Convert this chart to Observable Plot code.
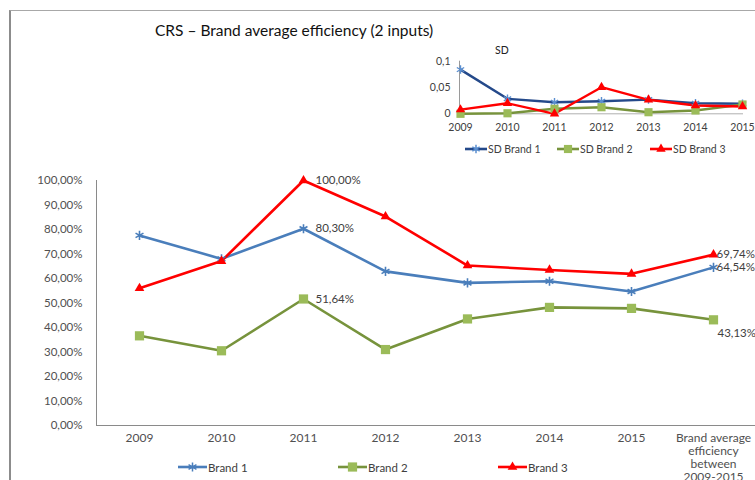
<!DOCTYPE html>
<html>
<head>
<meta charset="utf-8">
<script src="https://cdn.jsdelivr.net/npm/d3@7"></script>
<script src="https://cdn.jsdelivr.net/npm/@observablehq/plot@0.6"></script>
<style>
  body { margin: 0; background: #fff; font-family: Lato, "Open Sans", sans-serif; }
  #chart { position: relative; width: 755px; height: 480px; overflow: hidden; background: #fff; }
  .frame { position: absolute; left: 9px; top: 10px; right: -20px; bottom: -20px;
           border-left: 2px solid #8c8c8c; border-top: 1.5px solid #a8a8a8; }
  .title { position: absolute; left: 155px; top: 21px; font-size: 15.5px; color: #111; white-space: nowrap; }
  .sd { position: absolute; left: 495px; top: 44px; font-size: 10.5px; color: #222; }
  .plot { position: absolute; }
  .legend { position: absolute; display: flex; align-items: center; white-space: nowrap; color: #404040; }
  .legend svg { display: block; }
</style>
</head>
<body>
<div id="chart">
  <div class="frame"></div>
  <div class="title">CRS – Brand average efficiency (2 inputs)</div>
  <div class="sd">SD</div>
</div>
<script>
// Efficiency per brand, 2009–2015, plus the brand average over the period
const categories = ["2009", "2010", "2011", "2012", "2013", "2014", "2015", "Brand average\nefficiency\nbetween\n2009-2015"];
const brand1 = [0.776, 0.680, 0.8030, 0.629, 0.582, 0.589, 0.547, 0.6454];
const brand2 = [0.366, 0.305, 0.5164, 0.310, 0.435, 0.482, 0.478, 0.4313];
const brand3 = [0.560, 0.671, 1.0000, 0.853, 0.653, 0.635, 0.619, 0.6974];

// Standard deviation of efficiency per brand
const sdYears = ["2009", "2010", "2011", "2012", "2013", "2014", "2015"];
const sdBrand1 = [0.084, 0.0285, 0.022, 0.024, 0.027, 0.020, 0.019];
const sdBrand2 = [0.000, 0.001, 0.0095, 0.0125, 0.003, 0.0063, 0.0177];
const sdBrand3 = [0.008, 0.020, 0.000, 0.0506, 0.0266, 0.0158, 0.0139];

const yTicks = [0, 0.1, 0.2, 0.3, 0.4, 0.5, 0.6, 0.7, 0.8, 0.9, 1];
const sdTicks = [0, 0.05, 0.1];

const labelledCats = [categories[2], categories[7]];

const pct = d => (d * 100).toFixed(2).replace(".", ",") + "%";
const comma = d => String(d).replace(".", ",");

const series = [
  {name: "Brand 1", values: brand1, line: "#4a7ebb", fill: "none", stroke: "#4a7ebb", symbol: "asterisk", r: 4.3},
  {name: "Brand 2", values: brand2, line: "#77933c", fill: "#9bbb59", stroke: "none", symbol: "square", r: 5.2},
  {name: "Brand 3", values: brand3, line: "#ff0000", fill: "#ff0000", stroke: "none", symbol: "triangle", r: 3.6}
];
const sdSeries = [
  {name: "SD Brand 1", values: sdBrand1, line: "#24498a", fill: "none", stroke: "#5b8fd0", symbol: "asterisk", r: 4},
  {name: "SD Brand 2", values: sdBrand2, line: "#77933c", fill: "#9bbb59", stroke: "none", symbol: "square", r: 4.6},
  {name: "SD Brand 3", values: sdBrand3, line: "#ff0000", fill: "#ff0000", stroke: "none", symbol: "triangle", r: 3.5}
];

const rows = series.flatMap(s => s.values.map((v, i) => ({brand: s.name, cat: categories[i], v})));
const sdRows = sdSeries.flatMap(s => s.values.map((v, i) => ({brand: s.name, year: sdYears[i], v})));

const chart = document.getElementById("chart");

// Main chart
const mainMarks = [
  Plot.axisX({tickSize: 0, tickPadding: 7, lineHeight: 1.1, fontSize: 12, fill: "#505050", label: null}),
  Plot.axisY({ticks: yTicks, tickFormat: pct, tickSize: 0, tickPadding: 14, fontSize: 11.5, fill: "#505050", label: null}),
  Plot.frame({anchor: "left", stroke: "#8a8a8a"}),
  Plot.ruleY([0], {stroke: "#8a8a8a"}),
  ...series.map(s => Plot.line(rows.filter(d => d.brand === s.name), {x: "cat", y: "v", stroke: s.line, strokeWidth: 2.6})),
  ...series.map(s => Plot.dot(rows.filter(d => d.brand === s.name), {x: "cat", y: "v", symbol: () => s.symbol, r: s.r, fill: s.fill, stroke: s.stroke, strokeWidth: 1.6})),
  // value labels at 2011
  Plot.text(rows.filter(d => d.cat === labelledCats[0]), {x: "cat", y: "v", text: d => pct(d.v), textAnchor: "start", dx: 12, fill: "#404040", fontSize: 11.5}),
  // value labels for the period averages
  Plot.text(rows.filter(d => d.cat === labelledCats[1] && d.brand !== "Brand 2"), {x: "cat", y: "v", text: d => pct(d.v), textAnchor: "start", dx: 3, fill: "#404040", fontSize: 11.5}),
  Plot.text(rows.filter(d => d.cat === labelledCats[1] && d.brand === "Brand 2"), {x: "cat", y: "v", text: d => pct(d.v), textAnchor: "start", dx: 4, dy: 13, fill: "#404040", fontSize: 11.5})
];

const main = Plot.plot({
  width: 755, height: 330,
  marginLeft: 96, marginRight: 0, marginTop: 20, marginBottom: 65,
  style: {fontFamily: "Lato, sans-serif", fontSize: "11.5px", color: "#505050", background: "transparent", overflow: "visible"},
  x: {type: "point", domain: categories, padding: 0.5},
  y: {domain: [0, 1]},
  marks: mainMarks
});
main.classList.add("plot");
main.style.left = "0px";
main.style.top = "160px";
chart.appendChild(main);

// SD inset
const inset = Plot.plot({
  width: 335, height: 100,
  marginLeft: 39, marginRight: 12, marginTop: 20.7, marginBottom: 26.7,
  style: {fontFamily: "Lato, sans-serif", fontSize: "10.5px", color: "#404040", background: "transparent", overflow: "visible"},
  x: {type: "point", domain: sdYears, padding: 0, label: null, tickSize: 0, tickPadding: 10},
  y: {domain: [0, 0.1], ticks: sdTicks, tickFormat: comma, label: null, tickSize: 0, tickPadding: 9},
  marks: [
    Plot.frame({anchor: "left", stroke: "#9a9a9a"}),
    Plot.ruleY([0], {stroke: "#b0b0b0"}),
    ...sdSeries.map(s => Plot.line(sdRows.filter(d => d.brand === s.name), {x: "year", y: "v", stroke: s.line, strokeWidth: 2.4})),
    ...sdSeries.map(s => Plot.dot(sdRows.filter(d => d.brand === s.name), {x: "year", y: "v", symbol: () => s.symbol, r: s.r, fill: s.fill, stroke: s.stroke, strokeWidth: 1.4}))
  ]
});
inset.classList.add("plot");
inset.style.left = "420px";
inset.style.top = "40px";
chart.appendChild(inset);

// Legends
const symbolTypes = {asterisk: d3.symbolAsterisk, square: d3.symbolSquare, triangle: d3.symbolTriangle};
function legendItem(s, left, top, lineW, fontSize) {
  const div = document.createElement("div");
  div.className = "legend";
  div.style.left = left + "px";
  div.style.top = (top - 8) + "px";
  div.style.fontSize = fontSize + "px";
  const svg = d3.create("svg").attr("width", lineW + 1).attr("height", 16);
  svg.append("line").attr("x1", 0).attr("x2", lineW).attr("y1", 8).attr("y2", 8)
    .attr("stroke", s.line).attr("stroke-width", 2.6);
  svg.append("path").attr("transform", `translate(${lineW / 2},8)`)
    .attr("d", d3.symbol(symbolTypes[s.symbol], Math.PI * s.r * s.r)())
    .attr("fill", s.fill).attr("stroke", s.stroke).attr("stroke-width", 1.5);
  div.appendChild(svg.node());
  const span = document.createElement("span");
  span.textContent = s.name;
  div.appendChild(span);
  chart.appendChild(div);
}
[178, 338, 498].forEach((x, i) => legendItem(series[i], x, 467, 29, 11.5));
[465, 557, 650].forEach((x, i) => legendItem(sdSeries[i], x, 149, 22, 10.5));
</script>
</body>
</html>
